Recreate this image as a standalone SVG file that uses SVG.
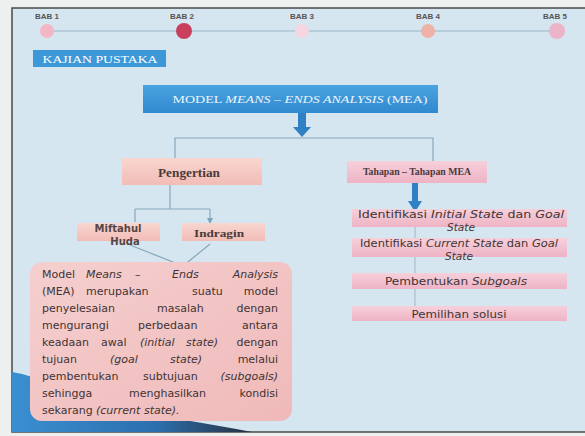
<svg xmlns="http://www.w3.org/2000/svg" width="585" height="436" viewBox="0 0 585 436">
<defs>
<linearGradient id="gBlue" x1="0" y1="0" x2="0" y2="1"><stop offset="0" stop-color="#4aa3e0"/><stop offset="1" stop-color="#3189cf"/></linearGradient>
<linearGradient id="gPeach" x1="0" y1="0" x2="0" y2="1"><stop offset="0" stop-color="#f8d6d0"/><stop offset="1" stop-color="#f2bcb6"/></linearGradient>
<linearGradient id="gPink" x1="0" y1="0" x2="0" y2="1"><stop offset="0" stop-color="#f6d0da"/><stop offset="1" stop-color="#eeb3c4"/></linearGradient>
<linearGradient id="gNote" x1="0" y1="0" x2="1" y2="1"><stop offset="0" stop-color="#f5cfcf"/><stop offset="1" stop-color="#f0b9b9"/></linearGradient>
<linearGradient id="gSwoosh" x1="0" y1="0" x2="1" y2="0"><stop offset="0" stop-color="#3a8fd0"/><stop offset="0.6" stop-color="#2c6fae"/><stop offset="1" stop-color="#28303e"/></linearGradient>
<marker id="ah" markerWidth="6" markerHeight="6" refX="3" refY="3" orient="auto" markerUnits="userSpaceOnUse"><path d="M0,0 L6,3 L0,6 Z" fill="#7fa3b8"/></marker>
</defs>
<style>
.bab{font-family:"Liberation Sans",Arial,sans-serif;font-size:8px;font-weight:bold;fill:#555}
.ser{font-family:"Liberation Serif","Times New Roman",serif}
.san{font-family:"DejaVu Sans","Liberation Sans",sans-serif}
.ln{stroke:#86a8bc;stroke-width:1.2;fill:none}
.note{font-family:"DejaVu Sans","Liberation Sans",sans-serif;font-size:11px;fill:#403434}
.rt{font-family:"DejaVu Sans","Liberation Sans",sans-serif;font-size:10px;fill:#3f3535;text-anchor:middle}
</style>
<rect width="585" height="436" fill="#eef0f0"/>
<rect x="12" y="8" width="580" height="424" fill="#d6e6f1" stroke="#4a4a4a" stroke-width="1.5"/>
<path d="M12,372 C40,376 60,392 120,408 C170,418 210,424 252,432 L12,432 Z" fill="url(#gSwoosh)"/>

<g id="timeline">
<line x1="47" y1="31" x2="557" y2="31" stroke="#9bb4c4" stroke-width="1"/>
<text class="bab" x="35" y="19">BAB 1</text>
<text class="bab" x="170" y="19">BAB 2</text>
<text class="bab" x="290" y="19">BAB 3</text>
<text class="bab" x="416" y="19">BAB 4</text>
<text class="bab" x="543" y="19">BAB 5</text>
<circle cx="47" cy="31" r="7" fill="#f2b6c4"/>
<circle cx="184" cy="31" r="8" fill="#c8405c"/>
<circle cx="302" cy="31" r="7" fill="#f5d6e0"/>
<circle cx="428" cy="31" r="7" fill="#efb2a8"/>
<circle cx="557" cy="31" r="8" fill="#ecb4c8"/>
</g>

<g id="kajian">
<rect x="33" y="50" width="133" height="17" fill="#3d98d8"/>
<text class="ser" x="100" y="62.5" font-size="9.5" fill="#fff" text-anchor="middle" textLength="115" lengthAdjust="spacingAndGlyphs">KAJIAN PUSTAKA</text>
</g>

<g id="connectors">
<path d="M298,113 V127 H293 L302,137 L311,127 H306 V113 Z" fill="#2f80c4"/>
<path class="ln" d="M175,158 V138 H433 V161"/>
<path class="ln" d="M170,185 V209 M135,209 H210 M135,209 V222" />
<path class="ln" d="M210,209 V221" marker-end="url(#ah)"/>
<path class="ln" d="M130,245 L183,266 L210,244"/>
<path d="M412,183 V201 H408 L415,212 L422,201 H418 V183 Z" fill="#2f80c4"/>
<path d="M415,227 V238 M415,257 V273 M415,289 V306" stroke="#9fb6c6" stroke-width="1" fill="none"/>
</g>

<g id="main">
<rect x="143" y="85" width="295" height="28" fill="url(#gBlue)"/>
<text class="ser" x="300" y="103" font-size="10" fill="#eaf4fb" text-anchor="middle" textLength="255" lengthAdjust="spacingAndGlyphs">MODEL <tspan font-style="italic">MEANS – ENDS ANALYSIS</tspan> (MEA)</text>
</g>

<g id="pengertian">
<rect x="122" y="158" width="140" height="27" fill="url(#gPeach)"/>
<text class="ser" x="189" y="177" font-size="12" font-weight="bold" fill="#4a3a3a" text-anchor="middle" textLength="62" lengthAdjust="spacingAndGlyphs">Pengertian</text>
</g>

<g id="huda">
<rect x="77" y="223" width="83" height="18" fill="url(#gPeach)"/>
<text class="san" x="118" y="232" font-size="10" font-weight="bold" fill="#574545" text-anchor="middle">Miftahul</text>
<text class="san" x="125" y="245" font-size="10" font-weight="bold" fill="#574545" text-anchor="middle">Huda</text>
</g>

<g id="indragin">
<rect x="182" y="223" width="83" height="18" fill="url(#gPeach)"/>
<text class="ser" x="219" y="237" font-size="11" font-weight="bold" fill="#4a3a3a" text-anchor="middle" textLength="50" lengthAdjust="spacingAndGlyphs">Indragin</text>
</g>

<g id="definisi">
<rect x="30" y="262" width="262" height="159" rx="12" fill="url(#gNote)"/>
<text class="note" y="278"><tspan x="42">Model</tspan><tspan x="86" font-style="italic">Means</tspan><tspan x="135">–</tspan><tspan x="172" font-style="italic">Ends</tspan><tspan x="278" text-anchor="end" font-style="italic">Analysis</tspan></text>
<text class="note" y="295"><tspan x="42">(MEA)</tspan><tspan x="86">merupakan</tspan><tspan x="192">suatu</tspan><tspan x="278" text-anchor="end">model</tspan></text>
<text class="note" y="312"><tspan x="42">penyelesaian</tspan><tspan x="157">masalah</tspan><tspan x="278" text-anchor="end">dengan</tspan></text>
<text class="note" y="329"><tspan x="42">mengurangi</tspan><tspan x="138">perbedaan</tspan><tspan x="278" text-anchor="end">antara</tspan></text>
<text class="note" y="346"><tspan x="42">keadaan</tspan><tspan x="101">awal</tspan><tspan x="140" font-style="italic">(initial</tspan><tspan x="186" font-style="italic">state)</tspan><tspan x="278" text-anchor="end">dengan</tspan></text>
<text class="note" y="363"><tspan x="42">tujuan</tspan><tspan x="110" font-style="italic">(goal</tspan><tspan x="170" font-style="italic">state)</tspan><tspan x="278" text-anchor="end">melalui</tspan></text>
<text class="note" y="380"><tspan x="42">pembentukan</tspan><tspan x="143">subtujuan</tspan><tspan x="278" text-anchor="end" font-style="italic">(subgoals)</tspan></text>
<text class="note" y="397"><tspan x="42">sehingga</tspan><tspan x="129">menghasilkan</tspan><tspan x="278" text-anchor="end">kondisi</tspan></text>
<text class="note" y="414"><tspan x="42">sekarang</tspan><tspan x="96" font-style="italic">(current state).</tspan></text>
</g>

<g id="tahapan">
<rect x="347" y="161" width="140" height="22" fill="url(#gPink)"/>
<text class="ser" x="417" y="175" font-size="9.5" font-weight="bold" fill="#4a3a3a" text-anchor="middle" textLength="108" lengthAdjust="spacingAndGlyphs">Tahapan – Tahapan MEA</text>
</g>

<g id="step1">
<rect x="352" y="209" width="215" height="18" fill="url(#gPink)"/>
<text class="rt" x="461" y="218" textLength="206" lengthAdjust="spacingAndGlyphs">Identifikasi <tspan font-style="italic">Initial State</tspan> dan <tspan font-style="italic">Goal</tspan></text>
<text class="rt" x="461" y="231" font-style="italic" textLength="28" lengthAdjust="spacingAndGlyphs">State</text>
</g>

<g id="step2">
<rect x="352" y="238" width="215" height="19" fill="url(#gPink)"/>
<text class="rt" x="459" y="247" textLength="198" lengthAdjust="spacingAndGlyphs">Identifikasi <tspan font-style="italic">Current State</tspan> dan <tspan font-style="italic">Goal</tspan></text>
<text class="rt" x="459" y="260" font-style="italic" textLength="28" lengthAdjust="spacingAndGlyphs">State</text>
</g>

<g id="step3">
<rect x="352" y="273" width="215" height="16" fill="url(#gPink)"/>
<text class="rt" x="456" y="285" textLength="142" lengthAdjust="spacingAndGlyphs">Pembentukan <tspan font-style="italic">Subgoals</tspan></text>
</g>

<g id="step4">
<rect x="352" y="306" width="215" height="15" fill="url(#gPink)"/>
<text class="rt" x="459" y="317.5" textLength="95" lengthAdjust="spacingAndGlyphs">Pemilihan solusi</text>
</g>
</svg>
